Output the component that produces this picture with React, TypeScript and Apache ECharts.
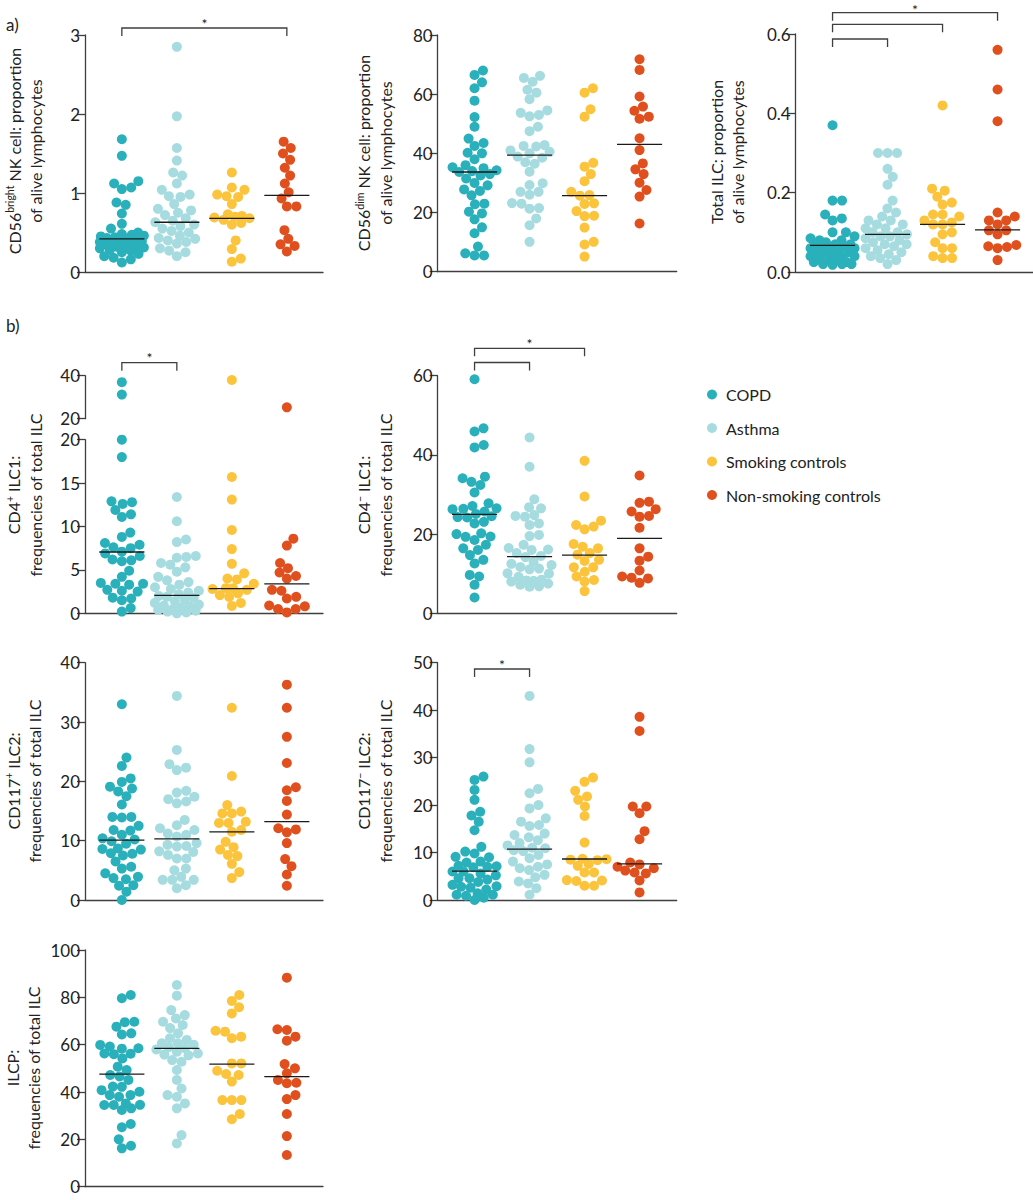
import React, { useEffect, useRef } from "react";
import * as echarts from "echarts";

const GROUPS = ["COPD", "Asthma", "Smoking controls", "Non-smoking controls"];
const COLORS = ["#29B0BB", "#A6DCE0", "#FBC43C", "#E0501E"];

// a) CD56bright NK cell
const p1Copd = [1.68,1.47,1.15,1.12,1.07,1.05,0.88,0.85,0.74,0.61,0.55,0.50,0.48,0.47,0.46,0.45,0.44,0.43,0.42,0.41,0.40,0.39,0.38,0.37,0.36,0.35,0.34,0.33,0.32,0.31,0.30,0.28,0.27,0.25,0.23,0.20,0.18,0.16,0.12];
const p1Asthma = [2.85,1.97,1.57,1.41,1.26,1.22,1.12,1.04,0.98,0.96,0.95,0.86,0.80,0.78,0.75,0.72,0.68,0.65,0.63,0.60,0.58,0.55,0.52,0.50,0.46,0.43,0.42,0.40,0.38,0.36,0.30,0.27,0.25,0.20];
const p1Smoking = [1.26,1.07,1.04,0.98,0.96,0.95,0.86,0.73,0.71,0.70,0.69,0.68,0.66,0.62,0.60,0.40,0.29,0.17,0.13];
const p1NonSmoking = [1.65,1.57,1.50,1.42,1.32,1.22,1.12,1.01,0.93,0.83,0.83,0.53,0.42,0.35,0.33,0.26];
const p1Medians = [0.42, 0.63, 0.68, 0.97];

// CD56dim NK cell
const p2Copd = [68,66.5,64,62,57.8,52.3,49,45,43.5,42.5,40.2,40,38,36,35.3,35,34.3,34,33.7,33,32.5,31.5,30,29.2,27.8,27.3,25.8,23,22.8,20.3,19.7,17.7,15,13,8.5,6.2,5.5,5.5];
const p2Asthma = [66.2,65.5,64.2,61.5,60.5,58.3,54.5,53.7,53,52.5,49,47.5,42.8,42.5,42.3,41,40.5,40,38.9,38.5,37,36.5,33.8,29.9,29.3,27,27,26,23.2,23,21.5,21.3,18,15.7,10.1];
const p2Smoking = [62,60.5,54.9,52.4,36.8,35.5,33,30.6,27,25.9,25.7,23.1,22.9,20.5,18.9,18.8,14.9,10.1,9.2,5.1];
const p2NonSmoking = [71.8,68.2,59.2,55.8,54.4,52.4,51.7,45.1,41.1,36.6,34.6,33,30.1,27.6,25.4,16.3];
const p2Medians = [33.7, 39.4, 25.7, 43];

// Total ILC
const p3Copd = [0.37,0.18,0.18,0.145,0.135,0.13,0.10,0.10,0.09,0.085,0.08,0.08,0.075,0.07,0.07,0.07,0.065,0.065,0.06,0.06,0.06,0.055,0.05,0.05,0.05,0.045,0.04,0.04,0.04,0.035,0.03,0.03,0.025,0.025,0.02,0.02,0.02,0.018];
const p3Asthma = [0.30,0.30,0.30,0.26,0.24,0.22,0.18,0.16,0.15,0.14,0.13,0.13,0.12,0.12,0.11,0.11,0.10,0.10,0.095,0.09,0.09,0.085,0.08,0.075,0.07,0.07,0.065,0.06,0.055,0.05,0.045,0.04,0.035,0.03,0.02];
const p3Smoking = [0.42,0.21,0.205,0.19,0.175,0.17,0.145,0.145,0.14,0.13,0.125,0.12,0.12,0.10,0.095,0.075,0.06,0.06,0.04,0.035,0.035];
const p3NonSmoking = [0.56,0.46,0.38,0.15,0.14,0.13,0.13,0.12,0.105,0.105,0.095,0.068,0.065,0.063,0.06,0.03];
const p3Medians = [0.067, 0.095, 0.12, 0.106];

// b) CD4+ ILC1 (broken axis: 0-20 and 20-40)
const p4Copd = [37,31.2,20,18,12.9,12.8,12.6,11.9,11.4,11.1,9.3,8.8,8.1,7.9,7.6,7.5,7.1,6.9,6.6,6.2,6.1,6.0,4.9,4.2,3.5,3.4,3.4,3.3,2.7,2.6,2.5,1.8,1.7,1.5,0.6,0.2];
const p4Asthma = [13.4,10.6,8.5,8.2,6.6,6.5,6.4,5.8,5.6,5.3,4.8,4.2,3.8,3.6,3.3,3.0,2.8,2.6,2.4,2.2,2.0,1.9,1.8,1.6,1.4,1.2,1.0,0.9,0.8,0.7,0.5,0.4,0.3,0.2,0.1,0];
const p4Smoking = [38,15.7,13.1,9.6,7.4,5.7,4.6,4.0,3.9,3.4,2.9,2.9,2.8,2.7,2.3,2.1,1.9,1.2,0.85];
const p4NonSmoking = [25.3,8.6,7.8,5.8,5.2,4.7,4.3,4.0,2.7,2.6,1.9,1.7,0.9,0.8,0.5,0.5,0.1];
const p4Medians = [7.06, 2.07, 2.84, 3.38];

// CD4- ILC1
const p5Copd = [59.1,46.7,45.9,42.5,41.9,34.5,34.1,33.2,32.4,30.5,27.8,27.1,26.5,26.4,26.3,25.7,25.1,24.5,24.3,24.2,23.1,22.7,20.2,20,19.4,19.3,18.5,17.3,16.4,16,14.7,13.5,12.6,9.7,9.3,7.2,4.0];
const p5Asthma = [44.4,37,28.8,26.8,26.5,24.8,24.6,24.4,22.7,22.3,19.8,19.5,17.3,16.5,16.1,16,15.2,14.5,14.2,13,12.5,12.2,11.7,11.3,11.1,10.1,10,9.2,8.5,8.3,8.2,8,7.5,7.2,6.8,6.7];
const p5Smoking = [38.5,29.5,23.4,22.3,21.9,21.2,17.5,16.8,16.4,15.2,14.8,13.5,13.2,11.6,11.6,10.5,9.3,8.4,8,5.6];
const p5NonSmoking = [34.8,28.2,27.9,26.3,25.7,24.6,24.4,21.6,16.4,14.3,13.3,10.8,9.3,9.0,8.8,7.7];
const p5Medians = [25, 14.3, 14.7, 18.9];

// CD117+ ILC2
const p6Copd = [33,24,22.6,20.5,19.9,19.1,18.8,18.3,17.5,16.1,14,14,13.9,12.5,11.8,11.7,11,10.4,10.2,9.9,9.5,8.7,8.6,8.5,7.9,7.8,7.5,6.5,5.6,5.3,4.5,3.9,3.7,3.5,2.5,2.4,1.4,0];
const p6Asthma = [34.4,25.3,22.9,22.3,21.9,18.4,18.1,17.4,17,16.6,16.3,13.5,12.6,12.1,11.8,11.2,11,10.7,9.6,9.3,9.1,9,8.2,8.1,7.6,7,7,5.3,5,3.9,3.4,3.4,3.4,2.5,2];
const p6Smoking = [32.4,20.9,16,14.9,14.6,14.6,13.2,13,13,11.8,11.5,9.8,8.9,8.5,7.6,7.4,6.1,4.7,3.7];
const p6NonSmoking = [36.3,32.4,27.5,23.1,19,18.5,16.7,14.4,12.1,11.9,11.4,9.6,6.9,5.7,4.3,2.4];
const p6Medians = [10.1, 10.3, 11.5, 13.2];

// CD117- ILC2
const p7Copd = [26,25.3,23.2,21.1,18.6,17.8,16.5,14.7,11.2,10.2,9.8,9.1,9,8.1,7.9,7.2,7.1,7,6.9,6,6,5.6,5.2,4.6,4.6,4.3,3.8,3.2,2.9,2.8,2.6,2.2,1.4,1.1,1.1,0.9,0.5,0];
const p7Asthma = [43,31.8,29,23.4,22.5,20,19.3,17.2,16.5,15.8,15.6,14,13.7,13.2,12.6,12,11.5,11,10.9,10.5,10.3,9.5,8.8,8.1,7.5,7,6.7,6.3,5.3,4.8,3.9,3.5,2.5,1.1];
const p7Smoking = [25.8,24.9,23,21.8,21.1,19.7,17.7,12.1,8.7,8.6,8.5,8.4,7.6,7.2,5.8,5.8,4.2,4.1,4,3,3];
const p7NonSmoking = [38.6,35.6,19.7,19.7,18.3,14.5,12.8,7.9,7.5,7,6.7,6.2,5.8,5.6,4.1,1.6];
const p7Medians = [6.1, 10.7, 8.64, 7.6];

// ILCP
const p8Copd = [81,79.6,69.7,69.5,67.6,64.8,64.3,59.9,59.2,58.5,58.3,56.3,56.2,56,54.2,50.7,49.3,47.2,46.6,45.1,42.3,42.2,40.8,40.1,38.7,38.7,38,35.2,34.6,34.5,34.5,33.1,32.4,26.5,25.1,20,17.3,16.2];
const p8Asthma = [85.2,80.7,74.6,72.5,71.1,69.7,68.3,67,64.8,62.7,62,60.6,60.6,60,59,58.5,58,57,56.3,55.8,55.5,53.5,52.8,49.3,45.1,41.5,38.7,38,35.2,33.1,21.8,18.3];
const p8Smoking = [81,78.5,75.8,73.2,65.9,65.5,63.4,62.7,52.1,52.1,49,47.6,47.2,44.4,36.6,36.6,36.6,30.7,28.5];
const p8NonSmoking = [88.3,66.5,66.2,63.4,61.7,51.8,50,47.9,45.1,43.9,43.7,38.7,37,30.7,21.4,13.4];
const p8Medians = [47.6, 58.4, 51.8, 46.5];

// ---------- layout ----------
const FONT = "Lato";
const INK = "#222222";
const AXIS = "#3f3f3f";
const X_UNIT = 55;
const X_MIN = 0.33;
const DOT = 10;

type PanelDef = {
  left: number; top: number; height: number; width: number;
  min: number; max: number; interval: number;
  groups: number[][]; medians: number[]; decimals: number; showX: boolean;
};

const p4 = [p4Copd, p4Asthma, p4Smoking, p4NonSmoking];

const panels: PanelDef[] = [
  { left: 85, top: 35, height: 237, width: 238, min: 0, max: 3, interval: 1, groups: [p1Copd, p1Asthma, p1Smoking, p1NonSmoking], medians: p1Medians, decimals: 0, showX: true },
  { left: 437.7, top: 35, height: 236.7, width: 239, min: 0, max: 80, interval: 20, groups: [p2Copd, p2Asthma, p2Smoking, p2NonSmoking], medians: p2Medians, decimals: 0, showX: true },
  { left: 795.7, top: 34, height: 238, width: 237.3, min: 0, max: 0.6, interval: 0.2, groups: [p3Copd, p3Asthma, p3Smoking, p3NonSmoking], medians: p3Medians, decimals: 1, showX: true },
  { left: 85, top: 375.7, height: 43, width: 238, min: 20, max: 40, interval: 20, groups: p4.map((g) => g.filter((v) => v > 20)), medians: [], decimals: 0, showX: false },
  { left: 85, top: 439.7, height: 173.6, width: 238, min: 0, max: 20, interval: 5, groups: p4.map((g) => g.filter((v) => v <= 20)), medians: p4Medians, decimals: 0, showX: true },
  { left: 437.7, top: 375.7, height: 237.6, width: 239, min: 0, max: 60, interval: 20, groups: [p5Copd, p5Asthma, p5Smoking, p5NonSmoking], medians: p5Medians, decimals: 0, showX: true },
  { left: 85, top: 662.7, height: 237.3, width: 238, min: 0, max: 40, interval: 10, groups: [p6Copd, p6Asthma, p6Smoking, p6NonSmoking], medians: p6Medians, decimals: 0, showX: true },
  { left: 437.7, top: 662.7, height: 237.3, width: 239, min: 0, max: 50, interval: 10, groups: [p7Copd, p7Asthma, p7Smoking, p7NonSmoking], medians: p7Medians, decimals: 0, showX: true },
  { left: 85, top: 950, height: 236.7, width: 238, min: 0, max: 100, interval: 20, groups: [p8Copd, p8Asthma, p8Smoking, p8NonSmoking], medians: p8Medians, decimals: 0, showX: true },
];

const titles = [
  { cx: 25, cy: 151, t: "{a|CD56}{s|bright}{a| NK cell: proportion}\n{a|of alive lymphocytes}" },
  { cx: 374.5, cy: 153, t: "{a|CD56}{s|dim}{a| NK cell: proportion}\n{a|of alive lymphocytes}" },
  { cx: 727, cy: 152, t: "{a|Total ILC: proportion}\n{a|of alive lymphocytes}" },
  { cx: 24.5, cy: 495, t: "{a|CD4}{s|+}{a| ILC1:}\n{a|frequencies of total ILC}" },
  { cx: 374.5, cy: 495, t: "{a|CD4}{s|\u2212}{a| ILC1:}\n{a|frequencies of total ILC}" },
  { cx: 24, cy: 781, t: "{a|CD117}{s|+}{a| ILC2:}\n{a|frequencies of total ILC}" },
  { cx: 374.5, cy: 781, t: "{a|CD117}{s|\u2212}{a| ILC2:}\n{a|frequencies of total ILC}" },
  { cx: 23, cy: 1068, t: "{a|ILCP:}\n{a|frequencies of total ILC}" },
];

const brackets = [
  { left: 85, from: 1, to: 4, y: 28 },
  { left: 795.7, from: 1, to: 2, y: 39 },
  { left: 795.7, from: 1, to: 3, y: 24.3 },
  { left: 795.7, from: 1, to: 4, y: 12.7 },
  { left: 85, from: 1, to: 2, y: 362.7 },
  { left: 437.7, from: 1, to: 2, y: 362.5 },
  { left: 437.7, from: 1, to: 3, y: 348.3 },
  { left: 437.7, from: 1, to: 2, y: 669 },
];
const stars = [
  { left: 85, at: 2.5, y: 19 },
  { left: 795.7, at: 2.5, y: 5 },
  { left: 85, at: 1.5, y: 353 },
  { left: 437.7, at: 2, y: 339 },
  { left: 437.7, at: 1.5, y: 660 },
];

const catX = (left: number, c: number) => left + (c - X_MIN) * X_UNIT;

function swarmOffsets(values: number[], pxPerUnit: number): number[] {
  const spacing = 9.5;
  const maxHalf = 22;
  const order = values.map((_, i) => i).sort((a, b) => values[a] - values[b]);
  const placed: { x: number; y: number }[] = [];
  const out = new Array(values.length).fill(0);
  for (const i of order) {
    const y = values[i] * pxPerUnit;
    const near = placed.filter((p) => Math.abs(p.y - y) < spacing);
    const cands: number[] = [0];
    for (const p of near) {
      const dx = Math.sqrt(spacing * spacing - (p.y - y) ** 2);
      cands.push(p.x + dx, p.x - dx);
    }
    for (let c = -maxHalf; c <= maxHalf; c += 1) cands.push(c);
    const valid = cands.filter((c) => Math.abs(c) <= maxHalf + 0.01);
    const free = valid
      .filter((c) => near.every((p) => (p.x - c) ** 2 + (p.y - y) ** 2 >= spacing * spacing - 0.01))
      .sort((a, b) => Math.abs(a) - Math.abs(b));
    let best = 0;
    if (free.length) best = free[0];
    else {
      let bestScore = -Infinity;
      for (const c of valid) {
        const d = Math.min(...near.map((p) => (p.x - c) ** 2 + (p.y - y) ** 2));
        const score = d - Math.abs(c) * 0.05;
        if (score > bestScore) { bestScore = score; best = c; }
      }
    }
    placed.push({ x: best, y });
    out[i] = best / X_UNIT;
  }
  return out;
}

function buildOption() {
  const grid: any[] = [];
  const xAxis: any[] = [];
  const yAxis: any[] = [];
  const series: any[] = [];
  const axisLine = { show: true, onZero: false, lineStyle: { color: AXIS, width: 1.3 } };
  panels.forEach((p, k) => {
    grid.push({ left: p.left, top: p.top, width: p.width, height: p.height });
    xAxis.push({
      gridIndex: k, type: "value", min: X_MIN, max: X_MIN + p.width / X_UNIT, show: p.showX,
      axisLine, axisTick: { show: false }, axisLabel: { show: false }, splitLine: { show: false },
    });
    yAxis.push({
      gridIndex: k, type: "value", min: p.min, max: p.max, interval: p.interval,
      axisLine, axisTick: { show: true, length: 8, lineStyle: { color: AXIS, width: 1.3 } },
      axisLabel: { fontSize: 17, color: INK, fontFamily: FONT, margin: 5, formatter: (v: number) => v.toFixed(p.decimals) },
      splitLine: { show: false },
    });
    const ppu = p.height / (p.max - p.min);
    p.groups.forEach((vals, g) => {
      const offs = swarmOffsets(vals, ppu);
      series.push({
        type: "scatter", name: GROUPS[g], xAxisIndex: k, yAxisIndex: k, symbol: "circle", symbolSize: DOT,
        clip: false, itemStyle: { color: COLORS[g], opacity: 1 }, z: 2,
        data: vals.map((v, i) => [g + 1 + offs[i], v]),
      });
    });
    if (p.medians.length) {
      series.push({
        type: "custom", name: "median", xAxisIndex: k, yAxisIndex: k, z: 5, clip: false,
        data: p.medians.map((m, g) => [g + 1, m]),
        renderItem: (_params: any, api: any) => {
          const c = api.value(0);
          const m = api.value(1);
          const a = api.coord([c - 0.41, m]);
          const b = api.coord([c + 0.41, m]);
          return { type: "line", shape: { x1: a[0], y1: a[1], x2: b[0], y2: b[1] }, style: { stroke: "#1a1a1a", lineWidth: 1.3 } };
        },
      });
    }
  });

  const graphic: any[] = [];
  titles.forEach((t) => {
    graphic.push({
      type: "text", x: t.cx, y: t.cy, rotation: Math.PI / 2,
      style: {
        text: t.t, align: "center", verticalAlign: "middle",
        rich: {
          a: { fontSize: 16, fontFamily: FONT, fill: INK, lineHeight: 21.5 },
          s: { fontSize: 10.5, fontFamily: FONT, fill: INK, padding: [0, 0, 8, 0] },
        },
      },
    });
  });
  brackets.forEach((b) => {
    const x1 = catX(b.left, b.from);
    const x2 = catX(b.left, b.to);
    graphic.push({
      type: "polyline",
      shape: { points: [[x1, b.y + 8], [x1, b.y], [x2, b.y], [x2, b.y + 8]] },
      style: { stroke: AXIS, lineWidth: 1.3, fill: null },
    });
  });
  stars.forEach((s) => {
    graphic.push({
      type: "text", x: catX(s.left, s.at), y: s.y + 4,
      style: { text: "*", fontSize: 14, fontFamily: FONT, fill: INK, align: "center", verticalAlign: "middle" },
    });
  });
  graphic.push({ type: "text", x: 6, y: 24, style: { text: "a)", fontSize: 17, fontFamily: FONT, fill: INK, verticalAlign: "middle" } });
  graphic.push({ type: "text", x: 6, y: 325, style: { text: "b)", fontSize: 17, fontFamily: FONT, fill: INK, verticalAlign: "middle" } });

  return {
    animation: false,
    backgroundColor: "#ffffff",
    textStyle: { fontFamily: FONT },
    legend: {
      data: GROUPS, orient: "vertical", left: 707, top: 385, padding: 0,
      itemWidth: 10, itemHeight: 10, itemGap: 14.5, icon: "circle", selectedMode: false,
      textStyle: { fontSize: 16, lineHeight: 19, fontFamily: FONT, color: INK, padding: [0, 0, 0, 4] },
    },
    grid, xAxis, yAxis, series, graphic,
  };
}

export default function App() {
  const ref = useRef<HTMLDivElement>(null);
  useEffect(() => {
    document.body.style.margin = "0";
    if (!ref.current) return;
    const chart = echarts.init(ref.current, undefined, { renderer: "svg" });
    chart.setOption(buildOption() as any);
    return () => chart.dispose();
  }, []);
  return <div ref={ref} style={{ width: 1033, height: 1200 }} />;
}
